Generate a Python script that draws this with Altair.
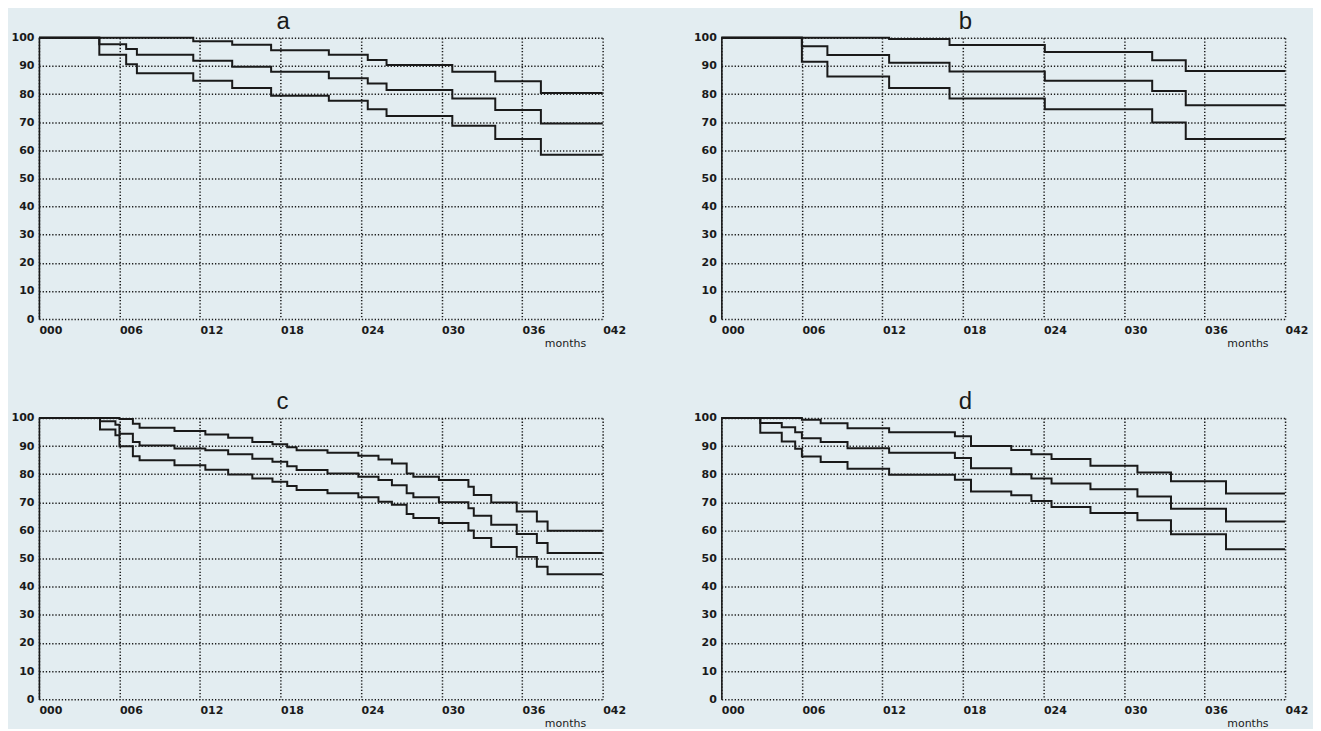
import altair as alt
import pandas as pd

# ---------------- data (months, % surviving) ----------------
# panel a
a_months = [0, 4.5, 6.5, 7.3, 11.5, 14.4, 17.3, 21.6, 24.5, 25.9, 30.8, 34.0, 37.4, 42]
a_upper = [100, 100, 100, 100, 98.8, 97.5, 95.6, 94.0, 92.1, 90.3, 87.9, 84.5, 80.4, 80.4]
a_mid = [100, 97.7, 96.0, 94.0, 91.8, 89.7, 87.9, 85.6, 83.7, 81.4, 78.4, 74.3, 69.5, 69.5]
a_lower = [100, 94.0, 90.6, 87.4, 84.7, 82.1, 79.4, 77.6, 74.6, 72.2, 68.7, 64.0, 58.4, 58.4]

# panel b
b_months = [0, 6.0, 7.9, 12.5, 17.0, 24.1, 32.1, 34.6, 42]
b_upper = [100, 100, 100, 99.6, 97.4, 94.9, 92.0, 88.2, 88.2]
b_mid = [100, 97.0, 93.9, 91.1, 88.0, 84.7, 81.1, 76.0, 76.0]
b_lower = [100, 91.5, 86.2, 82.1, 78.4, 74.6, 69.9, 64.0, 64.0]

# panel c
c_months = [0, 4.55, 5.7, 6.0, 7.0, 7.5, 10.1, 12.4, 14.1, 15.9, 17.4, 18.5, 19.2, 21.5,
            23.8, 25.3, 26.3, 27.4, 27.9, 29.8, 32.0, 32.4, 33.7, 35.6, 37.1, 37.9, 42]
c_upper = [100, 100, 100, 99.6, 97.9, 96.5, 95.3, 94.1, 92.9, 91.4, 90.6, 89.6, 88.5, 87.6,
           86.5, 85.2, 83.8, 80.2, 79.1, 77.9, 75.5, 72.6, 69.9, 66.7, 63.2, 59.9, 59.9]
c_mid = [100, 98.8, 97.6, 94.4, 91.4, 90.2, 89.1, 88.5, 87.1, 85.5, 84.4, 82.8, 81.5, 80.2,
         79.1, 77.9, 76.1, 73.2, 71.8, 70.0, 67.9, 65.2, 62.0, 58.7, 55.5, 52.0, 52.0]
c_lower = [100, 95.9, 93.8, 89.9, 86.4, 84.9, 83.2, 81.6, 79.9, 78.5, 77.3, 75.8, 74.4, 73.2,
           71.8, 70.2, 69.1, 65.8, 64.4, 62.6, 60.0, 57.3, 54.1, 50.6, 47.1, 44.4, 44.4]

# panel d
d_months = [0, 2.9, 4.5, 5.5, 6.0, 7.4, 9.4, 12.5, 17.4, 18.6, 21.6, 23.1, 24.6, 27.5,
            31.0, 33.5, 37.6, 42]
d_upper = [100, 100, 100, 100, 99.3, 98.1, 96.3, 94.9, 93.5, 90.0, 88.6, 87.1, 85.4, 83.0,
           80.6, 77.5, 73.1, 73.1]
d_mid = [100, 98.2, 96.7, 94.9, 92.8, 91.4, 89.2, 87.6, 85.7, 82.1, 80.0, 78.5, 76.7, 74.6,
         72.1, 67.7, 63.2, 63.2]
d_lower = [100, 94.7, 91.6, 89.0, 86.3, 84.3, 81.9, 79.8, 78.0, 73.8, 72.5, 70.5, 68.3, 66.2,
           63.6, 58.6, 53.3, 53.3]

x_ticks = [0, 6, 12, 18, 24, 30, 36, 42]
y_ticks = [0, 10, 20, 30, 40, 50, 60, 70, 80, 90, 100]

BG = "#e3edf1"
INK = "#1a1a1a"
PW, PH = 565, 282


def panel(letter, months, upper, mid, lower):
    rows = []
    for name, vals in (("upper", upper), ("estimate", mid), ("lower", lower)):
        for t, v in zip(months, vals):
            rows.append({"month": t, "pct": v, "curve": name})
    df = pd.DataFrame(rows)
    title = alt.TitleParams(
        letter, anchor="start", frame="group", dx=238, offset=-2,
        fontSize=24, font="Liberation Sans", fontWeight="normal", color=INK,
    )
    return (
        alt.Chart(df, title=title)
        .mark_line(interpolate="step-after", color=INK, strokeWidth=2)
        .encode(
            x=alt.X(
                "month:Q",
                scale=alt.Scale(domain=[0, 42], nice=False),
                axis=alt.Axis(
                    values=x_ticks, format="03d", title="months",
                    grid=True, gridDash=[1.3, 1.9], gridColor=INK, gridWidth=1.5,
                    domain=False, ticks=False,
                    labelAlign="left", labelFont="DejaVu Sans", labelFontWeight="bold",
                    labelFontSize=11, labelPadding=5, labelColor=INK,
                    labelOverlap=False, labelFlush=False,
                    titleFont="DejaVu Sans", titleFontSize=11, titleFontWeight="normal",
                    titleColor=INK, titleAlign="right", titleAnchor="end",
                    titleX=PW - 17, titleY=27, titleBaseline="alphabetic",
                ),
            ),
            y=alt.Y(
                "pct:Q",
                scale=alt.Scale(domain=[0, 100], nice=False),
                axis=alt.Axis(
                    values=y_ticks, title=None,
                    grid=True, gridDash=[1.3, 1.9], gridColor=INK, gridWidth=1.5,
                    domain=True, domainColor=INK, domainWidth=1.6, ticks=False,
                    labelFont="DejaVu Sans", labelFontWeight="bold", labelFontSize=11,
                    labelPadding=5, labelColor=INK, labelOverlap=False,
                ),
            ),
            detail="curve:N",
        )
        .properties(width=PW, height=PH)
    )


pa = panel("a", a_months, a_upper, a_mid, a_lower)
pb = panel("b", b_months, b_upper, b_mid, b_lower)
pc = panel("c", c_months, c_upper, c_mid, c_lower)
pd_ = panel("d", d_months, d_upper, d_mid, d_lower)

chart = (
    alt.vconcat(
        alt.hconcat(pa, pb, spacing=68),
        alt.hconcat(pc, pd_, spacing=68),
        spacing=42,
    )
    .properties(padding={"left": 3, "top": 1, "right": 5, "bottom": 0})
    .configure(background=BG)
    .configure_view(stroke=None)
)

chart.save("out.html", embed_options={"renderer": "svg", "actions": False})
